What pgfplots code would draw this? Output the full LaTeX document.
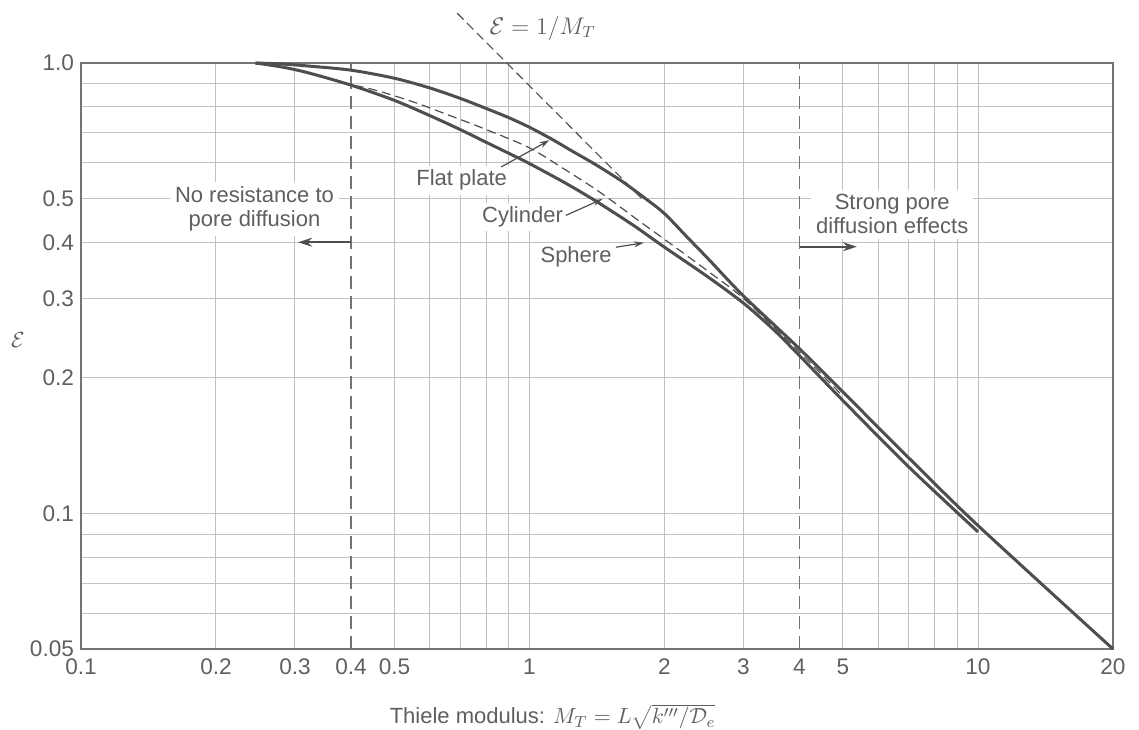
\documentclass[border=0pt]{standalone}
\usepackage{pgfplots}
\pgfplotsset{compat=1.18}
\usepackage{fontspec}
\setmainfont{Liberation Sans}
\usetikzlibrary{arrows.meta}
\definecolor{curve}{RGB}{78,78,78}
\definecolor{gridc}{RGB}{192,192,192}
\definecolor{txt}{RGB}{95,95,95}
\definecolor{framec}{RGB}{115,115,115}

\pgfplotstableread{
M E
0.245 1.000
0.28 0.995
0.32 0.985
0.40 0.964
0.50 0.925
0.60 0.880
0.70 0.835
0.80 0.793
0.90 0.756
1.00 0.720
1.12 0.678
1.25 0.636
1.40 0.596
1.60 0.548
1.80 0.503
2.00 0.463
2.25 0.410
2.50 0.368
3.00 0.304
4.00 0.232
5.00 0.186
7.00 0.133
10.0 0.094
20.0 0.050
}\flatplate

\pgfplotstableread{
M E
0.38 0.905
0.45 0.872
0.55 0.820
0.65 0.771
0.80 0.712
1.00 0.648
1.20 0.580
1.43 0.518
1.75 0.447
2.00 0.406
2.50 0.345
3.00 0.300
4.00 0.228
5.00 0.182
}\cylinder

\pgfplotstableread{
M E
0.245 1.000
0.28 0.980
0.32 0.952
0.40 0.893
0.50 0.826
0.60 0.764
0.70 0.712
0.80 0.667
0.90 0.630
1.00 0.598
1.20 0.542
1.40 0.495
1.70 0.437
2.00 0.390
2.50 0.335
3.00 0.293
3.50 0.256
4.00 0.224
5.00 0.178
7.00 0.127
10.0 0.091
}\sphere

\begin{document}
\begin{tikzpicture}
\begin{axis}[name=ax,
  xmode=log, ymode=log,
  scale only axis, width=516pt, height=293pt,
  xmin=0.1, xmax=20, ymin=0.05, ymax=1,
  clip=false,
  axis line style={framec, line width=0.9pt},
  xtick={0.2,0.3,0.5,0.6,0.7,0.8,0.9,1,2,3,5,6,7,8,9,10},
  xticklabels={0.2,0.3,0.5,,,,,1,2,3,5,,,,,10},
  extra x ticks={0.1,0.4,4,20},
  extra x tick labels={0.1,0.4,4,20},
  extra x tick style={grid=none},
  ytick={0.06,0.07,0.08,0.09,0.1,0.2,0.3,0.4,0.5,0.6,0.7,0.8,0.9},
  yticklabels={,,,,0.1,0.2,0.3,0.4,0.5,,,,},
  extra y ticks={0.05,1},
  extra y tick labels={0.05,1.0},
  extra y tick style={grid=none},
  grid=major,
  major grid style={gridc, line width=0.5pt},
  major tick length=0pt,
  minor tick num=0,
  ticklabel style={font=\fontsize{11.3}{13}\selectfont, text=txt},
  xticklabel style={yshift=-1.3pt},
  xlabel={Thiele modulus: $M_T = L\sqrt{k'''/\mathcal{D}_e}$},
  xlabel style={at={(axis description cs:0.457,0)}, anchor=center, yshift=-34pt,
    font=\fontsize{11}{13}\selectfont, text=txt},
  ylabel={$\mathcal{E}$},
  ylabel style={at={(axis description cs:0,0.527)}, anchor=center, rotate=-90, xshift=-31.5pt,
    font=\fontsize{11}{13}\selectfont, text=txt},
]
% regime boundaries
\addplot[framec, line width=0.8pt, dash pattern=on 6.5pt off 3.5pt] coordinates {(0.4,0.05) (0.4,1)};
\addplot[framec, line width=0.8pt, dash pattern=on 6.5pt off 3.5pt] coordinates {(4,0.05) (4,1)};

% text labels
\node[fill=white, inner sep=2.5pt, align=center, text=txt, font=\fontsize{11}{11.7}\selectfont]
  at (axis cs:0.2437,0.475) {No resistance to\\pore diffusion};
\node[fill=white, inner sep=2.5pt, align=center, text=txt, font=\fontsize{11}{11.7}\selectfont]
  at (axis cs:6.44,0.462) {Strong pore\\diffusion effects};
\node[fill=white, inner sep=2pt, text=txt, font=\fontsize{11}{13}\selectfont]
  at (axis cs:0.706,0.549) {Flat plate};
\node[fill=white, inner sep=2pt, text=txt, font=\fontsize{11}{13}\selectfont]
  at (axis cs:0.965,0.455) {Cylinder};
\node[fill=white, inner sep=2pt, text=txt, font=\fontsize{11}{13}\selectfont]
  at (axis cs:1.27,0.371) {Sphere};
\node[anchor=west, text=txt, font=\fontsize{12}{14}\selectfont]
  at (axis cs:0.786,1.195) {$\mathcal{E} = 1/M_T$};

% arrows
\addplot[curve, line width=1pt, -{Stealth[length=7pt,width=4.5pt]}] coordinates {(0.4,0.4) (0.305,0.4)};
\addplot[curve, line width=1pt, -{Stealth[length=7pt,width=4.5pt]}] coordinates {(4,0.391) (5.37,0.391)};
\addplot[curve, line width=0.6pt, -{Stealth[length=5pt,width=3pt]}] coordinates {(0.865,0.588) (1.108,0.674)};
\addplot[curve, line width=0.6pt, -{Stealth[length=5pt,width=3pt]}] coordinates {(1.206,0.459) (1.455,0.499)};
\addplot[curve, line width=0.6pt, -{Stealth[length=5pt,width=3pt]}] coordinates {(1.558,0.39) (1.80,0.399)};

% 1/M_T asymptote
\addplot[curve, line width=0.55pt, dash pattern=on 4.5pt off 2.5pt] coordinates {(0.69,1.29) (1.78,0.50)};

% curves
\addplot[curve, line width=0.6pt, dash pattern=on 4.5pt off 2.5pt, smooth, tension=0.5] table[x=M,y=E] {\cylinder};
\addplot[curve, line width=1.5pt, smooth, tension=0.5] table[x=M,y=E] {\flatplate};
\addplot[curve, line width=1.5pt, smooth, tension=0.5] table[x=M,y=E] {\sphere};
\end{axis}
\pgfresetboundingbox
\path ([shift={(-40.5pt,-40pt)}]ax.south west) rectangle ([shift={(13pt,31.5pt)}]ax.north east);
\end{tikzpicture}
\end{document}
